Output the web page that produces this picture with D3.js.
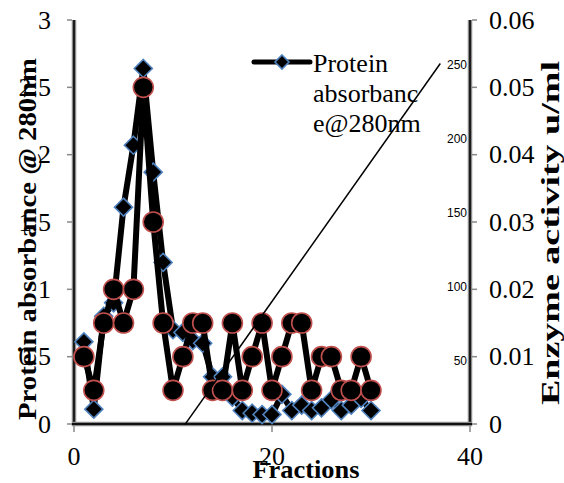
<!DOCTYPE html>
<meta charset="utf-8">
<title>Fractions</title>
<style>
body { margin: 0; background: #fff; }
</style>
<svg id="chart" width="564" height="483"></svg>
<script src="https://d3js.org/d3.v7.min.js"></script>
<script>
// data
let fractions = d3.range(1, 31);
let protein = [0.61, 0.11, 0.8, 0.9, 1.61, 2.07, 2.64, 1.87, 1.2, 0.7,
               0.68, 0.62, 0.6, 0.35, 0.35, 0.2, 0.1, 0.08, 0.07, 0.07,
               0.22, 0.1, 0.14, 0.1, 0.12, 0.18, 0.1, 0.14, 0.19, 0.1];
let enzyme = [0.01, 0.005, 0.015, 0.02, 0.015, 0.02, 0.05, 0.03, 0.015, 0.005,
              0.01, 0.015, 0.015, 0.005, 0.005, 0.015, 0.005, 0.01, 0.015, 0.005,
              0.01, 0.015, 0.015, 0.005, 0.01, 0.01, 0.005, 0.005, 0.01, 0.005];
let gradientX = [11.2, 37];
let gradientV = [7, 251];
let leftTicks = [0, 0.5, 1, 1.5, 2, 2.5, 3];
let rightTicks = [0, 0.01, 0.02, 0.03, 0.04, 0.05, 0.06];
let ghostTicks = [50, 100, 150, 200, 250];
let xTicks = [0, 20, 40];

const SERIF = "'Liberation Serif', 'Times New Roman', Times, serif";
const NARROW = "'Liberation Sans Narrow', 'Arial Narrow', 'Liberation Sans', sans-serif";

let svg = d3.select("#chart").attr("font-family", SERIF);
let pLeft = 74, pRight = 470, pTop = 20, pBottom = 424;

let x = d3.scaleLinear().domain([0, 40]).range([pLeft, pRight]);
let y = d3.scaleLinear().domain([0, 3]).range([pBottom, pTop]);
let y2 = d3.scaleLinear().domain([0, 0.06]).range([pBottom, pTop]);
let y3 = d3.scaleLinear().domain([0, 250]).range([435, 65]);

let back = svg.append("g"), marks = svg.append("g"), front = svg.append("g");

// ghost axis labels
back.selectAll("text.ghost").data(ghostTicks).enter().append("text")
  .attr("font-family", NARROW).attr("font-size", 12)
  .attr("x", 467).attr("y", d => y3(d))
  .attr("dy", "0.35em")
  .attr("text-anchor", "end")
  .text(d => d);

// axes
let axisLine = (x1, y1, x2, y2_) => {
  back.append("line").attr("x1", x1).attr("y1", y1).attr("x2", x2).attr("y2", y2_)
    .attr("stroke", "#8a8a8a").attr("stroke-width", 4.5);
  back.append("line").attr("x1", x1).attr("y1", y1).attr("x2", x2).attr("y2", y2_)
    .attr("stroke", "#111").attr("stroke-width", 1.8);
};
axisLine(pLeft, pTop, pLeft, pBottom + 2);
axisLine(pRight, pTop, pRight, pBottom + 2);
axisLine(pLeft - 2, pBottom, pRight + 2, pBottom);

back.selectAll("line.lt").data(leftTicks).enter().append("line")
  .attr("x1", pLeft - 7).attr("x2", pLeft - 2)
  .attr("y1", d => y(d)).attr("y2", d => y(d))
  .attr("stroke", "#888").attr("stroke-width", 1.5);
back.selectAll("line.rt").data(rightTicks).enter().append("line")
  .attr("x1", pRight + 2).attr("x2", pRight + 7)
  .attr("y1", d => y2(d)).attr("y2", d => y2(d))
  .attr("stroke", "#888").attr("stroke-width", 1.5);
back.selectAll("line.xt").data(xTicks).enter().append("line")
  .attr("x1", d => x(d)).attr("x2", d => x(d))
  .attr("y1", pBottom + 2).attr("y2", pBottom + 8)
  .attr("stroke", "#888").attr("stroke-width", 1.5);

front.selectAll("text.lt").data(leftTicks).enter().append("text")
  .attr("font-size", 26)
  .attr("x", 51).attr("y", d => y(d)).attr("dy", "0.33em")
  .attr("text-anchor", "end")
  .text(d => d);
front.selectAll("text.rt").data(rightTicks).enter().append("text")
  .attr("font-size", 26)
  .attr("x", 489).attr("y", d => y2(d)).attr("dy", "0.33em")
  .text(d => d === 0 ? "0" : d.toFixed(2));
front.selectAll("text.xt").data(xTicks).enter().append("text")
  .attr("font-size", 26)
  .attr("x", d => x(d)).attr("y", 465)
  .attr("text-anchor", "middle")
  .text(d => d);

// axis titles (stretched along their length like the reference)
front.append("text").attr("font-size", 25).attr("font-weight", "bold")
  .attr("transform", "translate(36,239) rotate(-90)")
  .attr("text-anchor", "middle")
  .attr("textLength", 362).attr("lengthAdjust", "spacingAndGlyphs")
  .text("Protein absorbance @ 280nm");
front.append("text").attr("font-size", 25).attr("font-weight", "bold")
  .attr("transform", "translate(559,233) rotate(-90)")
  .attr("text-anchor", "middle")
  .attr("textLength", 344).attr("lengthAdjust", "spacingAndGlyphs")
  .text("Enzyme activity u/ml");
front.append("text").attr("font-size", 25).attr("font-weight", "bold")
  .attr("x", 306).attr("y", 478)
  .attr("text-anchor", "middle")
  .attr("textLength", 107).attr("lengthAdjust", "spacingAndGlyphs")
  .text("Fractions");

// series
let diamond = s => "M0," + (-s) + "L" + s + ",0L0," + s + "L" + (-s) + ",0Z";

let pLine = d3.line().x((d, i) => x(fractions[i])).y(d => y(d));
marks.append("path").attr("d", pLine(protein))
  .attr("fill", "none").attr("stroke", "#000").attr("stroke-width", 6)
  .attr("stroke-linejoin", "round");
marks.selectAll("path.dia").data(protein).enter().append("path")
  .attr("transform", (d, i) => "translate(" + x(fractions[i]) + "," + y(d) + ")")
  .attr("d", diamond(9))
  .attr("fill", "#000").attr("stroke", "#4f81bd").attr("stroke-width", 1.6);

let eLine = d3.line().x((d, i) => x(fractions[i])).y(d => y2(d));
marks.append("path").attr("d", eLine(enzyme))
  .attr("fill", "none").attr("stroke", "#000").attr("stroke-width", 6)
  .attr("stroke-linejoin", "round");
marks.selectAll("circle").data(enzyme).enter().append("circle")
  .attr("cx", (d, i) => x(fractions[i])).attr("cy", d => y2(d)).attr("r", 10)
  .attr("fill", "#000").attr("stroke", "#c0504d").attr("stroke-width", 1.6);

marks.append("line")
  .attr("x1", x(gradientX[0])).attr("y1", y3(gradientV[0]))
  .attr("x2", x(gradientX[1])).attr("y2", y3(gradientV[1]))
  .attr("stroke", "#000").attr("stroke-width", 1.5);

// legend
let lg = front.append("g");
lg.append("line").attr("x1", 254).attr("x2", 310).attr("y1", 62).attr("y2", 62)
  .attr("stroke", "#000").attr("stroke-width", 5).attr("stroke-linecap", "round");
lg.append("path").attr("transform", "translate(282,62)").attr("d", diamond(7))
  .attr("fill", "#000").attr("stroke", "#4f81bd").attr("stroke-width", 1.6);
let lt = lg.append("text").attr("font-size", 26);
["Protein", "absorbanc", "e@280nm"].forEach((s, i) => {
  lt.append("tspan").attr("x", 313).attr("y", 72 + i * 30).text(s);
});
</script>
